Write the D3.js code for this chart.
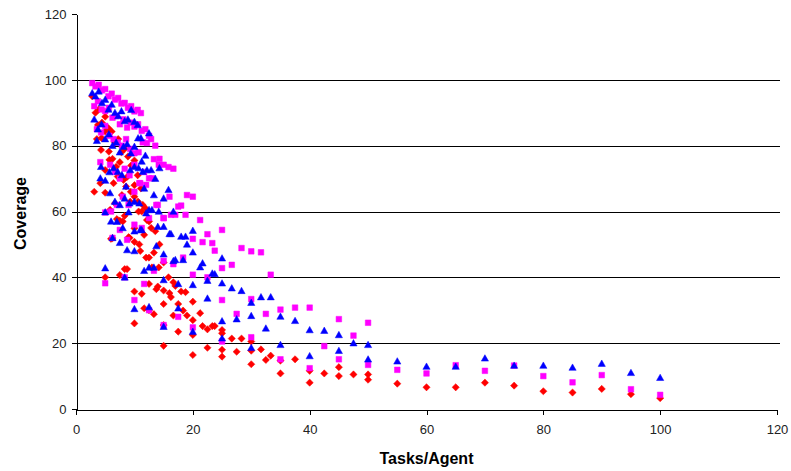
<!DOCTYPE html>
<html><head><meta charset="utf-8">
<script src="https://cdn.jsdelivr.net/npm/d3@7/dist/d3.min.js"></script>
<style>body{margin:0;background:#fff}svg{display:block}</style>
</head><body>
<svg id="chart" width="791" height="471"></svg>
<script>
// ---- data ----
const tasks = [25,30,35,40,45,50,55,60,65,70,75,80,85,90,95,100];
const agents = [1,2,3,4,5,6,7,8,9];
const xTicks = [0,20,40,60,80,100,120];
const yTicks = [0,20,40,60,80,100,120];
const gridValues = [20,40,60,80,100];
const seriesNames = ["Series1","Series2","Series3"];

// coverage[agentIndex][taskIndex]
const redCoverage = [
  [18.0,13.6,10.8,8.0,10.0,8.9,7.7,6.6,6.6,8.0,7.1,5.4,5.0,6.1,4.5,3.3],
  [30.0,19.2,23.5,16.4,18.6,15.9,17.4,17.7,14.9,14.7,15.1,11.6,10.8,12.7,10.5,10.5],
  [42.5,26.0,30.6,28.8,25.5,28.4,29.9,22.5,25.2,25.2,23.0,21.4,21.4,20.5,18.1,16.2],
  [51.9,40.7,42.5,35.7,35.0,38.0,36.4,31.9,34.0,31.9,35.5,27.0,29.1,24.2,25.2,24.0],
  [40.0,51.7,57.7,57.0,52.2,50.8,48.0,46.0,43.0,37.2,36.0,35.2,37.4,35.7,28.4,32.6],
  [68.6,65.7,60.5,62.5,57.2,58.7,52.0,54.9,50.0,52.9,46.0,47.5,43.0,44.5,40.0,38.5],
  [82.0,78.7,72.6,75.7,68.6,70.6,65.0,67.6,63.0,64.5,60.0,62.0,57.4,55.0,54.0,50.0],
  [66.0,86.3,82.3,84.3,78.2,76.0,73.6,75.0,69.6,70.5,66.0,68.0,63.0,60.0,61.0,57.0],
  [95.0,90.0,91.0,87.0,88.8,85.3,84.3,81.0,82.0,78.0,79.0,76.7,74.0,75.5,71.0,67.0]
];
const magentaCoverage = [
  [20.5,21.8,15.1,12.4,15.1,13.4,11.9,10.8,13.3,11.6,13.2,10.0,8.1,10.3,6.0,4.3],
  [30.0,25.5,28.0,24.8,40.0,33.1,28.9,33.4,28.9,30.2,30.8,30.8,19.1,27.3,22.3,26.2],
  [40.0,33.1,38.0,42.0,45.0,44.0,46.0,40.8,50.7,50.4,42.8,43.8,48.9,47.9,47.6,40.8],
  [52.0,54.4,51.4,56.0,55.0,58.0,62.0,58.0,59.0,61.5,59.0,51.7,57.4,53.1,48.1,54.4],
  [38.2,60.0,62.0,64.5,62.0,66.0,68.6,68.1,70.1,62.0,58.0,64.5,59.0,61.8,65.0,64.5],
  [75.0,59.7,74.2,72.0,70.0,73.0,71.0,74.2,68.6,72.0,70.1,75.9,74.2,74.2,73.5,73.0],
  [85.0,84.0,86.0,83.0,82.0,81.0,80.0,82.0,79.0,77.7,78.0,81.0,80.8,82.0,80.0,76.0],
  [92.0,93.5,91.0,90.5,91.5,88.5,89.0,86.5,88.0,85.5,87.0,85.8,86.5,84.5,85.0,83.0],
  [99.0,98.0,98.5,96.8,97.2,95.0,95.8,94.0,94.5,92.8,93.0,91.5,92.0,90.4,90.9,89.9]
];
const blueCoverage = [
  [21.5,18.6,19.5,16.1,17.7,15.1,14.5,12.9,12.9,15.4,13.2,13.2,12.6,13.8,11.0,9.5],
  [31.0,25.0,30.6,23.5,33.6,26.7,27.3,28.3,24.5,28.1,26.8,24.0,23.8,22.5,20.0,19.5],
  [40.0,30.4,42.0,43.0,39.2,45.0,45.3,37.7,44.3,41.2,38.2,36.7,35.9,32.3,34.0,34.0],
  [52.0,50.5,48.3,48.0,54.4,43.0,49.5,47.0,53.2,38.0,52.4,47.6,43.1,39.0,41.0,45.8],
  [42.8,57.0,56.9,55.0,59.8,54.0,54.4,59.5,60.5,55.4,55.4,53.2,45.3,52.4,50.0,54.2],
  [70.1,59.8,65.6,63.0,62.0,64.0,62.5,63.0,62.5,67.0,60.5,65.0,60.0,64.0,66.6,60.0],
  [81.5,73.6,69.4,72.0,73.2,72.1,71.1,67.6,72.6,73.6,73.2,72.1,72.6,72.6,70.0,73.2],
  [88.0,85.0,86.5,82.0,83.5,80.0,81.0,78.0,79.7,80.5,77.7,79.7,82.3,75.2,77.0,83.8],
  [96.0,95.0,96.5,93.0,94.0,91.0,92.5,90.0,89.0,90.5,87.5,88.0,90.9,87.3,86.3,82.3]
];

// ---- drawing ----
const svg = d3.select("#chart");
const mLeft = 76, mRight = 777, mTop = 14, mBottom = 409;
const x = d3.scaleLinear().domain([0,120]).range([mLeft,mRight]);
const y = d3.scaleLinear().domain([0,120]).range([mBottom,mTop]);
const font = "'Liberation Sans', Arial, sans-serif";

// gridlines
svg.append("g").selectAll("line").data(gridValues).join("line")
  .attr("x1", x(0)).attr("x2", x(120) + 3)
  .attr("y1", d => Math.round(y(d)) + 0.5).attr("y2", d => Math.round(y(d)) + 0.5)
  .attr("stroke", "#000").attr("stroke-width", 1);

// axes
const yAxis = svg.append("g").attr("transform", `translate(${mLeft + 0.5},0)`)
  .call(d3.axisLeft(y).tickValues(yTicks).tickSize(5).tickPadding(5).tickSizeOuter(0));
const xAxis = svg.append("g").attr("transform", `translate(0,${mBottom + 0.5})`)
  .call(d3.axisBottom(x).tickValues(xTicks).tickSize(5).tickPadding(10).tickSizeOuter(0));
[yAxis, xAxis].forEach(g => {
  g.selectAll("path,line").attr("stroke", "#000").attr("shape-rendering", "crispEdges");
  g.selectAll("text").attr("font-family", font).attr("font-size", 13).attr("fill", "#222");
});

// markers
function pts(table) {
  const out = [];
  agents.forEach((a, i) => tasks.forEach((t, j) => out.push({x: t / a, y: table[i][j]})));
  return out;
}
const diamond = "M0,-3.6L3.6,0L0,3.6L-3.6,0Z";
const square = "M-2.8,-2.8H2.8V2.8H-2.8Z";
const tri = "M0,-3.6L3.6,2.8L-3.6,2.8Z";
const series = [
  {data: redCoverage, color: "#FF0000", path: diamond},
  {data: magentaCoverage, color: "#FF00FF", path: square},
  {data: blueCoverage, color: "#0000FF", path: tri}
];
series.forEach((s, k) => {
  svg.append("g").attr("class", seriesNames[k]).selectAll("path").data(pts(s.data)).join("path")
    .attr("d", s.path)
    .attr("transform", d => `translate(${x(d.x)},${y(d.y)})`)
    .attr("fill", s.color).attr("stroke", s.color).attr("stroke-width", 0.5);
});

// axis titles
svg.append("text").attr("x", (mLeft + mRight) / 2).attr("y", 464)
  .attr("text-anchor", "middle").attr("font-family", font).attr("font-weight", "bold")
  .attr("font-size", 16).text("Tasks/Agent");
svg.append("text").attr("transform", `translate(26,${(mTop + mBottom) / 2 + 2}) rotate(-90)`)
  .attr("text-anchor", "middle").attr("font-family", font).attr("font-weight", "bold")
  .attr("font-size", 16).text("Coverage");
</script>
</body></html>
